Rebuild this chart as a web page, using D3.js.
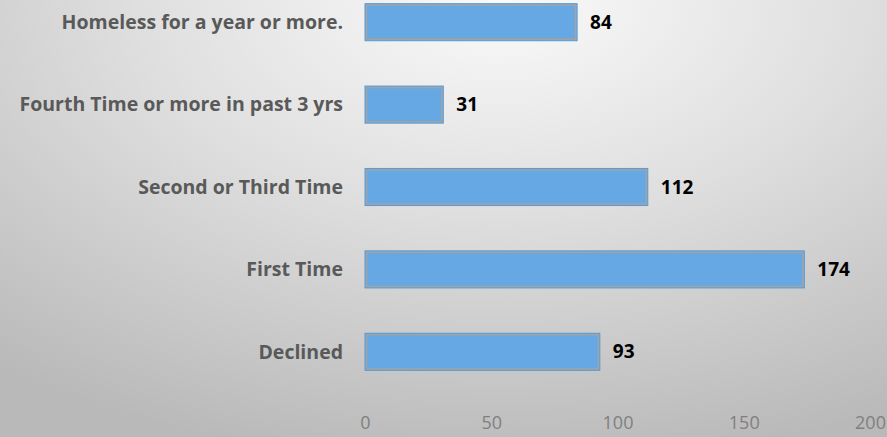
<!DOCTYPE html>
<html>
<head>
<meta charset="utf-8">
<script src="https://cdn.jsdelivr.net/npm/d3@7"></script>
<style>
body { margin: 0; }
</style>
</head>
<body>
<div id="chart"></div>
<script>
var categories = ['Homeless for a year or more.', 'Fourth Time or more in past 3 yrs', 'Second or Third Time', 'First Time', 'Declined'];
var values = [84, 31, 112, 174, 93];
var ticks = [0, 50, 100, 150, 200];

var w = 887, h = 437;
var font = 'Open Sans, sans-serif';

var svg = d3.select('#chart').append('svg')
    .attr('width', w)
    .attr('height', h);

// background: soft elliptical gradient, bright near top middle
var defs = svg.append('defs');
var grad = defs.append('radialGradient')
    .attr('id', 'bg')
    .attr('gradientUnits', 'userSpaceOnUse')
    .attr('cx', 0).attr('cy', 0).attr('r', 1)
    .attr('gradientTransform', 'translate(500,0) scale(800,470)');
grad.append('stop').attr('offset', '0%').attr('stop-color', '#fafafa');
grad.append('stop').attr('offset', '45%').attr('stop-color', '#dfdfdf');
grad.append('stop').attr('offset', '100%').attr('stop-color', '#b9b9b9');

svg.append('rect')
    .attr('width', w).attr('height', h)
    .attr('fill', 'url(#bg)');

var xscale = d3.scaleLinear()
    .domain([0, 200])
    .range([365, 870]);

var yscale = d3.scaleBand()
    .domain(categories)
    .range([-19, 393])
    .paddingInner(0.55)
    .paddingOuter(0.275);

// bars
svg.append('g').selectAll('rect')
    .data(categories)
    .enter()
    .append('rect')
    .attr('x', xscale(0))
    .attr('y', function (d) { return yscale(d); })
    .attr('width', function (d, i) { return xscale(values[i]) - xscale(0); })
    .attr('height', yscale.bandwidth())
    .attr('fill', '#65a8e3')
    .attr('stroke', '#5a9ad6')
    .attr('stroke-width', 1);

// inner grey border
svg.append('g').selectAll('rect')
    .data(categories)
    .enter()
    .append('rect')
    .attr('x', xscale(0) + 1.5)
    .attr('y', function (d) { return yscale(d) + 1.5; })
    .attr('width', function (d, i) { return xscale(values[i]) - xscale(0) - 3; })
    .attr('height', yscale.bandwidth() - 3)
    .attr('fill', 'none')
    .attr('stroke', '#a3a3a3')
    .attr('stroke-width', 1.5);

// category labels
svg.append('g').selectAll('text')
    .data(categories)
    .enter()
    .append('text')
    .text(function (d) { return d; })
    .attr('x', 343)
    .attr('y', function (d) { return yscale(d) + yscale.bandwidth() / 2; })
    .attr('dy', '0.35em')
    .attr('text-anchor', 'end')
    .attr('font-family', font)
    .attr('font-weight', 'bold')
    .attr('font-size', '19.5px')
    .attr('fill', '#595959');

// value labels
svg.append('g').selectAll('text')
    .data(categories)
    .enter()
    .append('text')
    .text(function (d, i) { return values[i]; })
    .attr('x', function (d, i) { return xscale(values[i]) + 13; })
    .attr('y', function (d) { return yscale(d) + yscale.bandwidth() / 2; })
    .attr('dy', '0.35em')
    .attr('font-family', font)
    .attr('font-weight', 'bold')
    .attr('font-size', '19px')
    .attr('fill', '#000');

// x axis
var xAxis = d3.axisBottom(xscale)
    .tickValues(ticks)
    .tickSize(0)
    .tickPadding(0);

var xg = svg.append('g')
    .attr('transform', 'translate(0,416)')
    .call(xAxis);
xg.select('.domain').remove();
xg.selectAll('text')
    .attr('font-family', font)
    .attr('font-size', '18px')
    .attr('fill', '#808080');
</script>
</body>
</html>
